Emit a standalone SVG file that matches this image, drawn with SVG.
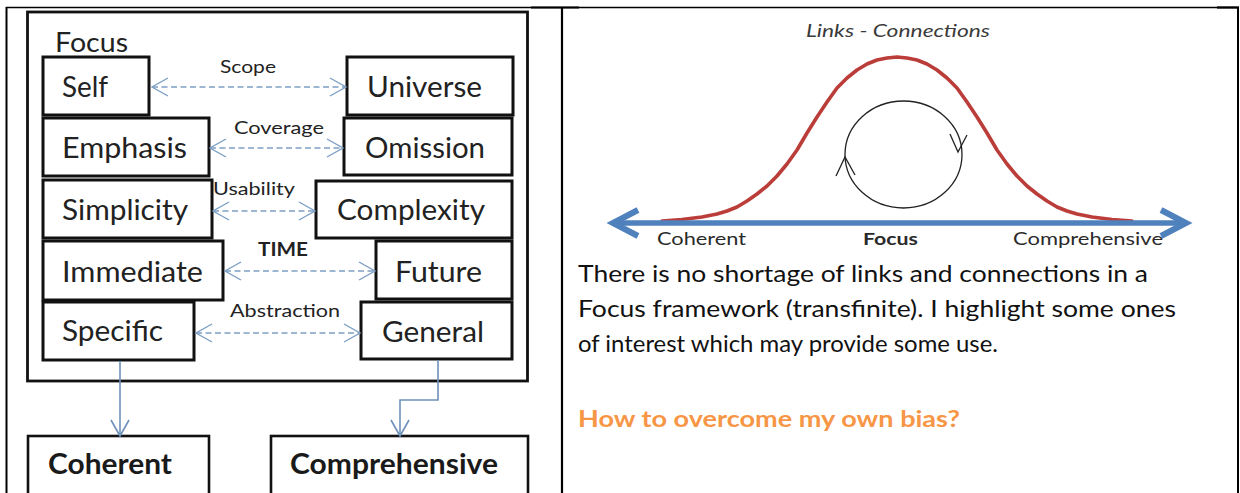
<svg xmlns="http://www.w3.org/2000/svg" width="1240" height="493" viewBox="0 0 1240 493">
  <style>
    .box { fill: #ffffff; stroke: #111111; stroke-width: 3; }
    .frame { fill: #ffffff; stroke: #111111; stroke-width: 2.8; }
    .lbl { font-family: Lato, "Liberation Sans", sans-serif; font-size: 28px; fill: #222222; }
    .blbl { font-family: Lato, "Liberation Sans", sans-serif; font-size: 28px; font-weight: bold; fill: #1a1a1a; }
    .small { font-family: Lato, "Liberation Sans", sans-serif; font-size: 18px; fill: #222222; }
    .dash { fill: none; stroke: #7d9fc4; stroke-width: 1.4; stroke-dasharray: 6 3.5; marker-start: url(#chev); marker-end: url(#chev); }
    .solid { fill: none; stroke: #6d91bb; stroke-width: 1.6; marker-end: url(#chevDown); }
    .axis { font-family: Lato, "Liberation Sans", sans-serif; font-size: 17px; fill: #2a2a2a; }
    .para { font-family: Lato, "Liberation Sans", sans-serif; font-size: 23.5px; fill: #111111; }
    .ask { font-family: Lato, "Liberation Sans", sans-serif; font-size: 23.5px; font-weight: bold; fill: #f79646; }
    .rule { stroke: #000000; fill: none; }
    .loop { fill: none; stroke: #222222; stroke-width: 1.3; }
  </style>
  <defs>
    <marker id="chev" markerUnits="userSpaceOnUse" markerWidth="20" markerHeight="22" refX="16" refY="10" orient="auto-start-reverse" overflow="visible">
      <path d="M0,1 L16,10 L0,19" fill="none" stroke="#7d9fc4" stroke-width="1.4"/>
    </marker>
    <marker id="chevDown" markerUnits="userSpaceOnUse" markerWidth="20" markerHeight="22" refX="16" refY="10" orient="auto" overflow="visible">
      <path d="M0,1 L16,10 L0,19" fill="none" stroke="#6d91bb" stroke-width="1.6"/>
    </marker>
  </defs>

  <rect width="1240" height="493" fill="#ffffff"/>

  <!-- table rules -->
  <g id="table">
    <line class="rule" x1="6" y1="7.5" x2="1239" y2="7.5" stroke-width="1.5"/>
    <line class="rule" x1="531" y1="7.5" x2="579" y2="7.5" stroke-width="2.2"/>
    <line class="rule" x1="1217" y1="7.5" x2="1239" y2="7.5" stroke-width="2.2"/>
    <line class="rule" x1="6.5" y1="7" x2="6.5" y2="493" stroke-width="2"/>
    <line class="rule" x1="562" y1="7" x2="562" y2="493" stroke-width="2.2"/>
    <line class="rule" x1="1238" y1="7" x2="1238" y2="493" stroke-width="2"/>
  </g>

  <!-- Focus frame -->
  <g id="focus-frame">
    <rect class="frame" x="27.5" y="12" width="500" height="369"/>
    <text class="lbl" x="55" y="52" style="font-size:26px" textLength="73" lengthAdjust="spacingAndGlyphs">Focus</text>
  </g>

  <!-- left column -->
  <g id="self"><rect class="box" x="43" y="57" width="106" height="58"/><text class="lbl" x="62" y="97" textLength="46" lengthAdjust="spacingAndGlyphs">Self</text></g>
  <g id="emphasis"><rect class="box" x="43" y="118" width="166" height="58"/><text class="lbl" x="62" y="158" textLength="125" lengthAdjust="spacingAndGlyphs">Emphasis</text></g>
  <g id="simplicity"><rect class="box" x="43" y="180" width="169" height="58"/><text class="lbl" x="62" y="220" textLength="126" lengthAdjust="spacingAndGlyphs">Simplicity</text></g>
  <g id="immediate"><rect class="box" x="43" y="241" width="180" height="59"/><text class="lbl" x="62" y="282" textLength="141" lengthAdjust="spacingAndGlyphs">Immediate</text></g>
  <g id="specific"><rect class="box" x="43" y="302" width="151" height="58"/><text class="lbl" x="62" y="341" textLength="101" lengthAdjust="spacingAndGlyphs">Specific</text></g>

  <!-- right column -->
  <g id="universe"><rect class="box" x="347" y="57" width="166" height="58"/><text class="lbl" x="367" y="97" textLength="115" lengthAdjust="spacingAndGlyphs">Universe</text></g>
  <g id="omission"><rect class="box" x="344" y="118" width="168" height="57"/><text class="lbl" x="365" y="158" textLength="120" lengthAdjust="spacingAndGlyphs">Omission</text></g>
  <g id="complexity"><rect class="box" x="316" y="181" width="196" height="57"/><text class="lbl" x="337" y="220" textLength="148" lengthAdjust="spacingAndGlyphs">Complexity</text></g>
  <g id="future"><rect class="box" x="376" y="241" width="136" height="58"/><text class="lbl" x="395" y="282" textLength="87" lengthAdjust="spacingAndGlyphs">Future</text></g>
  <g id="general"><rect class="box" x="361" y="302" width="151" height="57"/><text class="lbl" x="382" y="342" textLength="102" lengthAdjust="spacingAndGlyphs">General</text></g>

  <!-- outcome boxes -->
  <g id="coherent"><rect class="box" x="28" y="436" width="181" height="70" style="stroke-width:2.6"/><text class="blbl" x="48" y="474" textLength="124" lengthAdjust="spacingAndGlyphs">Coherent</text></g>
  <g id="comprehensive"><rect class="box" x="271" y="436" width="257" height="70" style="stroke-width:2.6"/><text class="blbl" x="290" y="474" textLength="208" lengthAdjust="spacingAndGlyphs">Comprehensive</text></g>

  <!-- connectors -->
  <g id="connectors">
    <path class="dash" d="M152,87 L346,87"/>
    <text class="small" x="220" y="73" textLength="56" lengthAdjust="spacingAndGlyphs">Scope</text>
    <path class="dash" d="M210,148 L343,148"/>
    <text class="small" x="234" y="134" textLength="90" lengthAdjust="spacingAndGlyphs">Coverage</text>
    <path class="dash" d="M213,211 L315,211"/>
    <text class="small" x="213" y="195" textLength="82" lengthAdjust="spacingAndGlyphs">Usability</text>
    <path class="dash" d="M225,271 L375,271"/>
    <text class="small" x="258" y="256" style="font-weight:bold" textLength="50" lengthAdjust="spacingAndGlyphs">TIME</text>
    <path class="dash" d="M196,333 L360,333"/>
    <text class="small" x="230" y="317" textLength="110" lengthAdjust="spacingAndGlyphs">Abstraction</text>
    <path class="solid" d="M120,361 L120,436"/>
    <path class="solid" d="M438,360 L438,400 L400,400 L400,436"/>
  </g>

  <!-- links / connections chart -->
  <g id="chart">
    <text x="806" y="37" font-family="Lato, 'Liberation Sans', sans-serif" font-size="17" font-style="italic" fill="#3a3a3a" textLength="184" lengthAdjust="spacingAndGlyphs">Links - Connections</text>
    <polyline fill="none" stroke="#bb3d3a" stroke-width="3.6" stroke-linejoin="round" stroke-linecap="round"
      points="662,221 682,219.5 702,217 717,214 727,211 737,207 747,201 757,194 767,186 777,176 787,164 797,150 807,133 817,117 827,102 837,88 847,78 857,70 867,64 877,60 887,58 897,57 907,58 917,60 927,64 937,70 947,78 957,88 967,102 977,117 987,133 997,150 1007,164 1017,176 1027,186 1037,194 1047,201 1057,207 1067,211 1077,214 1092,217 1112,219.5 1132,221"/>
    <ellipse class="loop" cx="903.5" cy="154.5" rx="58.5" ry="53.5"/>
    <path class="loop" d="M836,176 L845,157 L855,175"/>
    <path class="loop" d="M950,134 L958,152 L967,135"/>
    <line x1="616" y1="223" x2="1182" y2="223" stroke="#4f81bd" stroke-width="5.5"/>
    <path d="M638,210 L613,223 L638,236" fill="none" stroke="#4f81bd" stroke-width="6" stroke-linejoin="miter"/>
    <path d="M1161,210 L1186,223 L1161,236" fill="none" stroke="#4f81bd" stroke-width="6" stroke-linejoin="miter"/>
    <text class="axis" x="657" y="245" textLength="89" lengthAdjust="spacingAndGlyphs">Coherent</text>
    <text class="axis" x="863" y="245" style="font-weight:bold" textLength="55" lengthAdjust="spacingAndGlyphs">Focus</text>
    <text class="axis" x="1013" y="245" textLength="150" lengthAdjust="spacingAndGlyphs">Comprehensive</text>
  </g>

  <!-- description -->
  <g id="description">
    <text class="para" x="578" y="282" textLength="570" lengthAdjust="spacingAndGlyphs">There is no shortage of links and connections in a</text>
    <text class="para" x="578" y="317" textLength="598" lengthAdjust="spacingAndGlyphs">Focus framework (transfinite). I highlight some ones</text>
    <text class="para" x="578" y="352" textLength="420" lengthAdjust="spacingAndGlyphs">of interest which may provide some use.</text>
    <text class="ask" x="578" y="427" textLength="382" lengthAdjust="spacingAndGlyphs">How to overcome my own bias?</text>
  </g>
</svg>
